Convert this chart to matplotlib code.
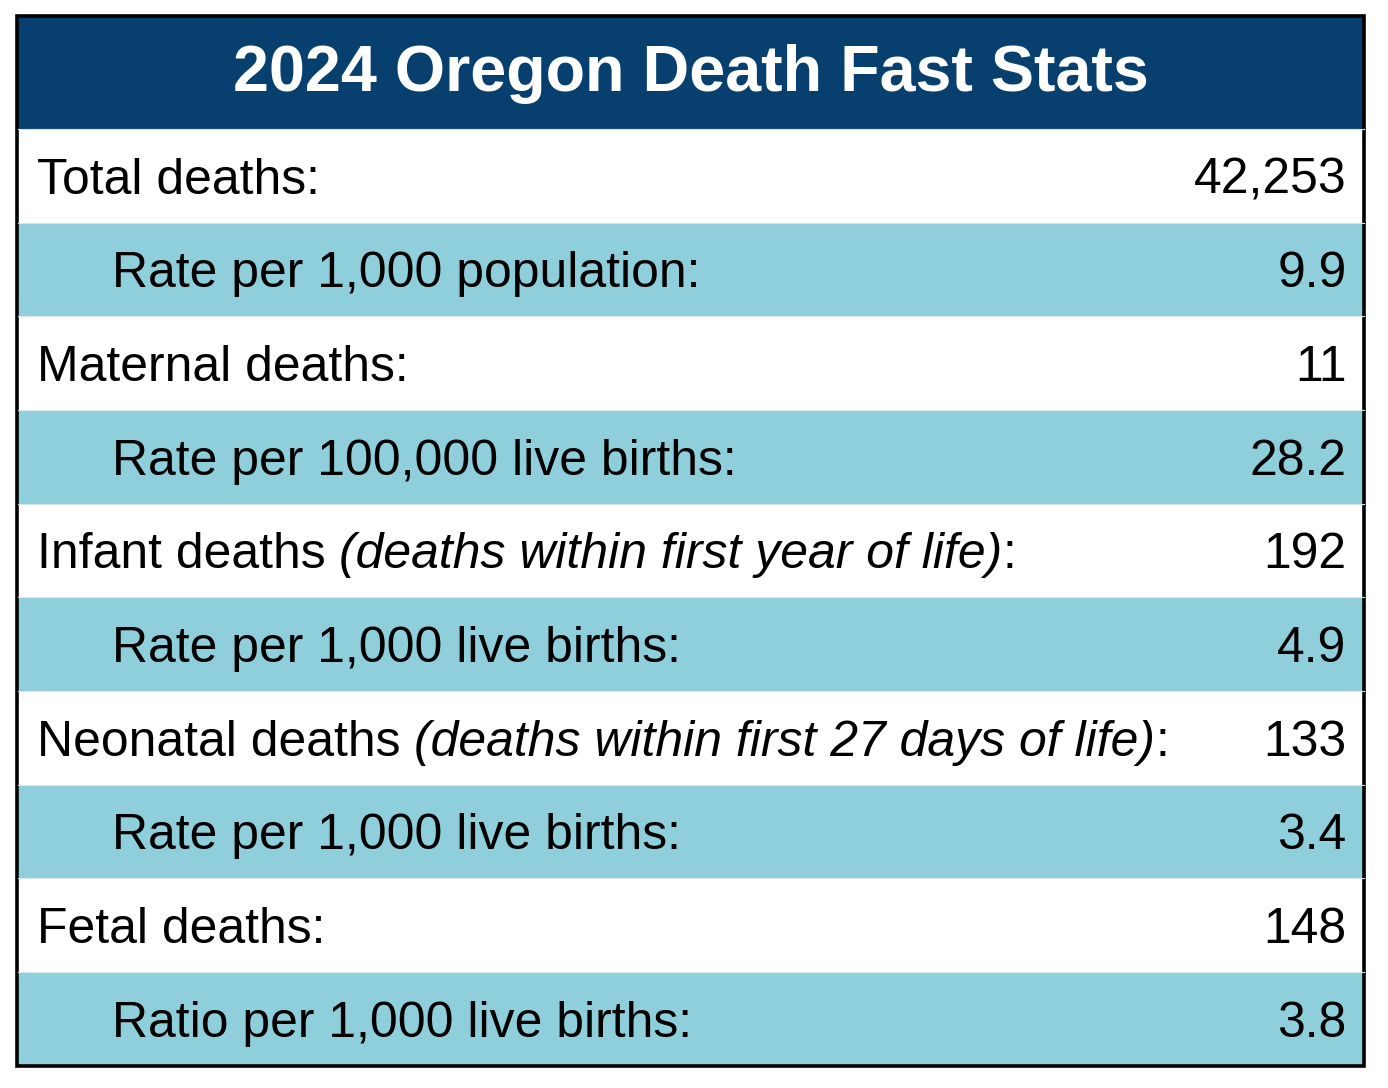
import matplotlib.pyplot as plt
from matplotlib.patches import Rectangle

# --- data ---
title = "2024 Oregon Death Fast Stats"
labels = [
    "Total deaths",
    "Rate per 1,000 population",
    "Maternal deaths",
    "Rate per 100,000 live births",
    "Infant deaths",
    "Rate per 1,000 live births",
    "Neonatal deaths",
    "Rate per 1,000 live births",
    "Fetal deaths",
    "Ratio per 1,000 live births",
]
notes = ["", "", "", "", "(deaths within first year of life)", "",
         "(deaths within first 27 days of life)", "", "", ""]
values = ["42,253", "9.9", "11", "28.2", "192", "4.9", "133", "3.4", "148", "3.8"]
indented = [False, True, False, True, False, True, False, True, False, True]

NAVY = "#07406F"
TEAL = "#8FCFDB"
FONT = "Liberation Sans"

W, H = 1388, 1088
fig = plt.figure(figsize=(W / 100, H / 100), dpi=100)
ax = fig.add_axes([0, 0, 1, 1])
ax.set_xlim(0, W)
ax.set_ylim(H, 0)
ax.axis("off")

left, right = 17.5, 1364.0
top, head_bot, bottom = 16.0, 129.0, 1065.5
row_h = (bottom - head_bot) / len(labels)

# header
ax.add_patch(Rectangle((left, top), right - left, head_bot - top, color=NAVY, lw=0))
ax.text((left + right) / 2, (top + head_bot) / 2 + 2, title, color="white",
        fontsize=46.5, fontweight="bold", family=FONT, ha="center", va="center")

renderer = fig.canvas.get_renderer()

for i, lab in enumerate(labels):
    y0 = head_bot + i * row_h
    if indented[i]:
        ax.add_patch(Rectangle((left, y0), right - left, row_h, color=TEAL, lw=0))
    ax.axhline(y0, xmin=left / W, xmax=right / W, color="#d8e6ea", lw=0.8)
    yb = y0 + row_h / 2 + 18
    x = 112 if indented[i] else 37
    kw = dict(fontsize=35.9, family=FONT, va="baseline", ha="left", color="black")
    if notes[i]:
        parts = [(lab + " ", "normal"), (notes[i], "italic"), (":", "normal")]
    else:
        parts = [(lab + ":", "normal")]
    for txt, style in parts:
        t = ax.text(x, yb, txt, fontstyle=style, **kw)
        x = t.get_window_extent(renderer).x1
    ax.text(1346.5, yb, values[i], fontsize=35.9, family=FONT, va="baseline",
            ha="right", color="black")

# outer border
ax.add_patch(Rectangle((left, top), right - left, bottom - top, fill=False,
                       edgecolor="black", lw=2.6))

fig.savefig("out.png", dpi=100)
